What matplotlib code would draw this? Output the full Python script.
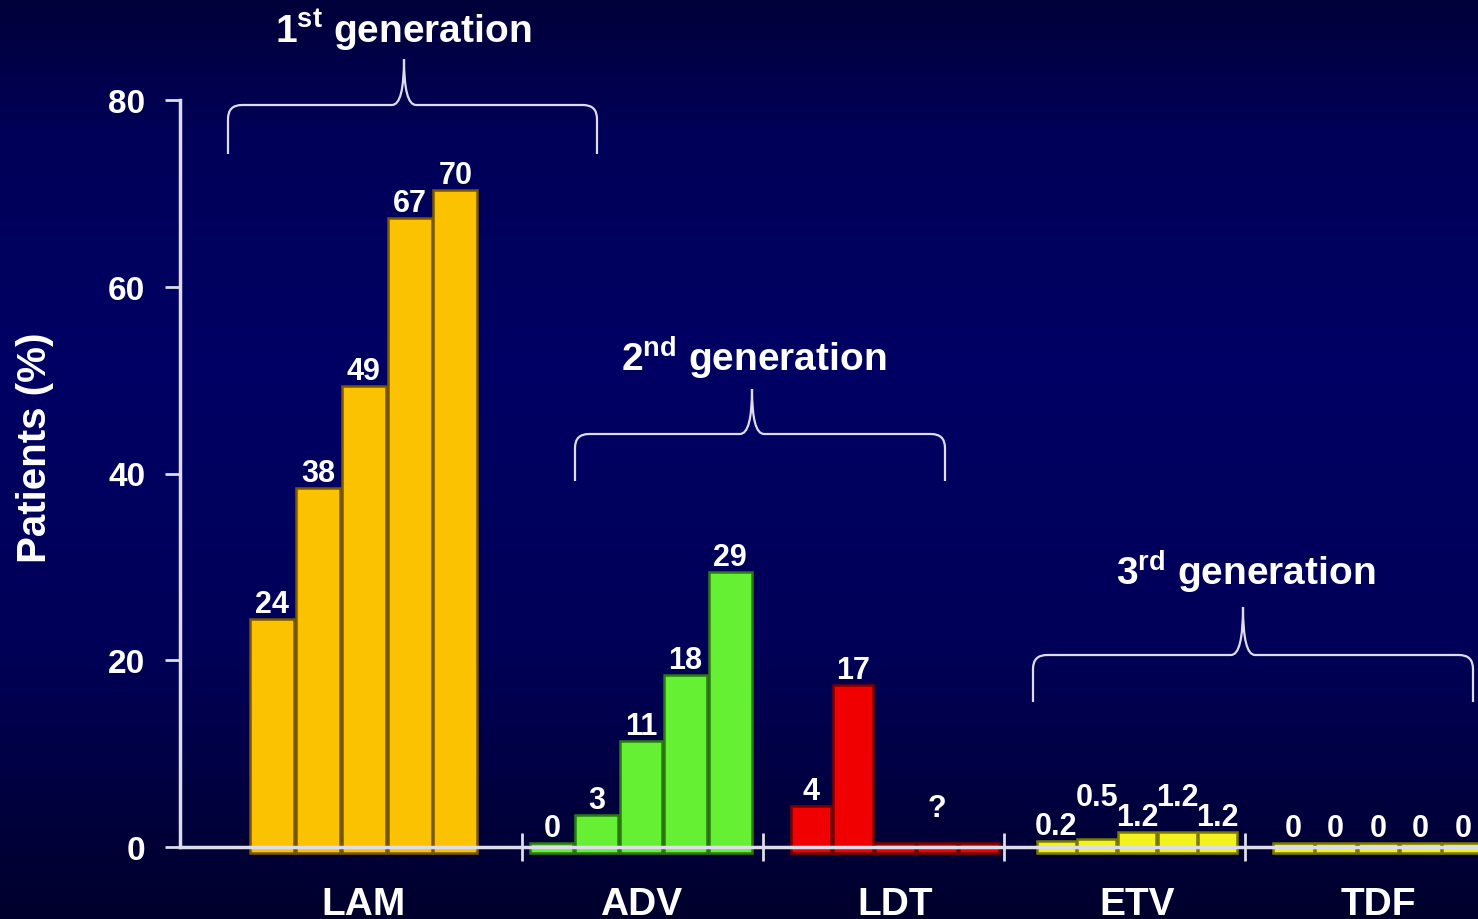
import numpy as np
import matplotlib.pyplot as plt
from matplotlib.path import Path
from matplotlib.patches import PathPatch
from matplotlib.colors import LinearSegmentedColormap

plt.rcParams['font.family'] = ['Liberation Sans', 'DejaVu Sans']
plt.rcParams['font.weight'] = 'bold'
plt.rcParams['mathtext.fontset'] = 'custom'
plt.rcParams['mathtext.rm'] = 'Liberation Sans:bold'
plt.rcParams['mathtext.it'] = 'Liberation Sans:bold'
plt.rcParams['mathtext.bf'] = 'Liberation Sans:bold'

# data
categories = ['LAM', 'ADV', 'LDT', 'ETV', 'TDF']
lam = [24, 38, 49, 67, 70]
adv = [0, 3, 11, 18, 29]
ldt = [4, 17, 0, 0, 0]
etv = [0.2, 0.5, 1.2, 1.2, 1.2]
tdf = [0, 0, 0, 0, 0]
lam_labels = ['24', '38', '49', '67', '70']
adv_labels = ['0', '3', '11', '18', '29']
ldt_labels = ['4', '17', '', '?', '']
etv_labels = ['0.2', '0.5', '1.2', '1.2', '1.2']
tdf_labels = ['0', '0', '0', '0', '0']
generations = [r'1$^{\rm st}$ generation', r'2$^{\rm nd}$ generation', r'3$^{\rm rd}$ generation']
yticks = [0, 20, 40, 60, 80]

# layout
W, H = 1478, 920
centers = [0.344, 1.494, 2.548, 3.552, 4.552]
pitch = [0.19, 0.185, 0.174, 0.167, 0.176]
colors = ['#FAC200', '#66F033', '#F00000', '#F2F21E', '#F2F21E']
edges = ['#7A5800', '#2A7A10', '#7A0000', '#7A7A00', '#7A7A00']
lifts = [[0]*5, [0]*5, [0, 0, 0, 2.2, 0], [0, 2.8, 0, 2.2, 0], [0]*5]
axis_col = '#DCDCEC'

fig = plt.figure(figsize=(W/100, H/100), dpi=100)

# background gradient + braces live in a pixel-space axes
ax_bg = fig.add_axes([0, 0, 1, 1], zorder=0)
bg = LinearSegmentedColormap.from_list('bg', [(0, '#00003A'), (0.15, '#000058'), (0.4, '#000064'),
                                              (0.7, '#000058'), (1.0, '#00002C')])
grad = np.linspace(0, 1, 256).reshape(-1, 1)
ax_bg.imshow(grad, extent=[0, W, H, 0], aspect='auto', cmap=bg)
ax_bg.set_xlim(0, W)
ax_bg.set_ylim(H, 0)
ax_bg.axis('off')


def brace(axb, x0, x1, xm, yb, ye, yp, r=14, c=12):
    verts = [(x0, ye), (x0, yb + r), (x0, yb), (x0 + r, yb),
             (xm - c, yb), (xm, yb), (xm, yp),
             (xm, yb), (xm + c, yb),
             (x1 - r, yb), (x1, yb), (x1, yb + r), (x1, ye)]
    codes = [Path.MOVETO, Path.LINETO, Path.CURVE3, Path.CURVE3, Path.LINETO,
             Path.CURVE3, Path.CURVE3, Path.CURVE3, Path.CURVE3, Path.LINETO,
             Path.CURVE3, Path.CURVE3, Path.LINETO]
    axb.add_patch(PathPatch(Path(verts, codes), fill=False, edgecolor=axis_col, lw=1.6))


brace(ax_bg, 228, 597, 404, 106, 155, 60)
brace(ax_bg, 575, 945, 752, 435, 482, 390)
brace(ax_bg, 1033, 1473, 1243, 656, 703, 608)
ax_bg.text(403, 30, generations[0], ha='center', va='center', fontsize=28, color='white')
ax_bg.text(754, 358, generations[1], ha='center', va='center', fontsize=28, color='white')
ax_bg.text(1246, 572, generations[2], ha='center', va='center', fontsize=28, color='white')

ax = fig.add_axes([180/W, (H-848)/H, 1298/W, (848-101)/H], zorder=1)
ax.patch.set_visible(False)
ax.set_xlim(-0.419, 4.967)
ax.set_ylim(0, 80)

groups = [lam, adv, ldt, etv, tdf]
labels = [lam_labels, adv_labels, ldt_labels, etv_labels, tdf_labels]
for g, vals in enumerate(groups):
    vals = np.array(vals, dtype=float)
    xs = centers[g] + (np.arange(len(vals)) - 2) * pitch[g]
    tops = vals + 0.4
    ax.bar(xs, tops + 0.6, bottom=-0.6, width=pitch[g]*0.96, color=colors[g],
           edgecolor=edges[g], linewidth=1.8, clip_on=False, zorder=2)
    for x, t, lab, lift in zip(xs, tops, labels[g], lifts[g]):
        if lab:
            ax.text(x, t + 0.75 + lift, lab, ha='center', va='baseline',
                    fontsize=22, color='white', zorder=4)

for s in ['top', 'right']:
    ax.spines[s].set_visible(False)
for s in ['left', 'bottom']:
    ax.spines[s].set_color(axis_col)
    ax.spines[s].set_linewidth(2.5)
    ax.spines[s].set_zorder(3)

ax.set_yticks(yticks)
ax.tick_params(axis='y', direction='out', length=11, width=2, color=axis_col,
               labelsize=24, labelcolor='white', pad=14)
ax.set_xticks([1, 2, 3, 4])
ax.tick_params(axis='x', which='major', direction='inout', length=20, width=2,
               color=axis_col, labelbottom=False)
ax.set_xticks(centers, minor=True)
ax.set_xticklabels(categories, minor=True)
ax.tick_params(axis='x', which='minor', length=0, pad=28, labelsize=28, labelcolor='white')

fig.text(35/W, 1 - 448/H, 'Patients (%)', rotation=90, ha='center', va='center',
         fontsize=29, color='white')

plt.savefig('out.png', dpi=100)
